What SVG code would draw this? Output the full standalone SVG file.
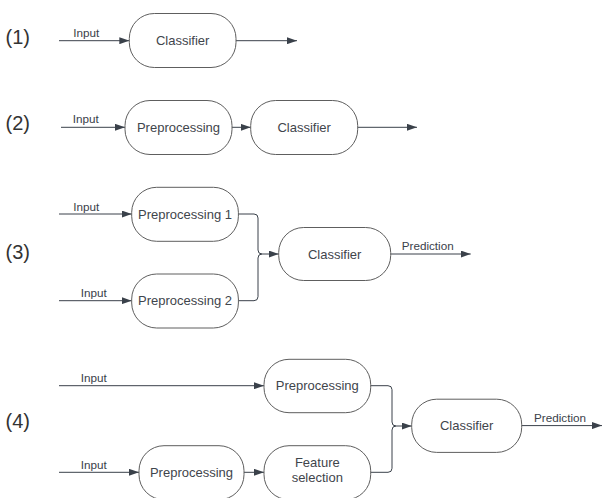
<svg xmlns="http://www.w3.org/2000/svg" width="602" height="498" viewBox="0 0 602 498">
<style>
.box{fill:#ffffff;stroke:#5e5e5e;stroke-width:1}
.lbl{font-family:"Liberation Sans",Arial,sans-serif;font-size:13px;fill:#3f454c;text-anchor:middle}
.sm{font-family:"Liberation Sans",Arial,sans-serif;font-size:11.7px;fill:#3a414a}
.sec{font-family:"Liberation Sans",Arial,sans-serif;font-size:20px;fill:#333333}
.ln{fill:none;stroke:#3a414a;stroke-width:1}
.arr{marker-end:url(#ah)}
</style>
<defs>
<marker id="ah" markerUnits="userSpaceOnUse" markerWidth="10" markerHeight="7" refX="10" refY="3.5" orient="auto">
<path d="M0,0 L10,3.5 L0,7 z" fill="#3a414a"/>
</marker>
</defs>
<g id="section-labels">
<text class="sec" x="5.5" y="44.3">(1)</text>
<text class="sec" x="5.5" y="130.3">(2)</text>
<text class="sec" x="5.5" y="259.3">(3)</text>
<text class="sec" x="5.5" y="427.6">(4)</text>
</g>
<g id="connectors">
<path class="ln arr" d="M59,40.7 H129.3"/>
<path class="ln arr" d="M236,40.7 H297"/>
<path class="ln arr" d="M61,127.3 H125"/>
<path class="ln arr" d="M232,127.3 H250.7"/>
<path class="ln arr" d="M357.7,127.3 H417"/>
<path class="ln arr" d="M59,214 H131.7"/>
<path class="ln arr" d="M59,300.7 H131.7"/>
<path class="ln arr" d="M238.3,214 H254 Q258,214 258,218 V250 Q258,254 262,254 H278.7"/>
<path class="ln" d="M238.3,300.7 H254 Q258,300.7 258,296.7 V258 Q258,254 262,254"/>
<path class="ln arr" d="M390.7,254 H470.7"/>
<path class="ln arr" d="M59,385.7 H264"/>
<path class="ln arr" d="M59,472.3 H139"/>
<path class="ln arr" d="M244,472.3 H264"/>
<path class="ln arr" d="M370.7,385.7 H388 Q392,385.7 392,389.7 V422 Q392,426 396,426 H411.7"/>
<path class="ln" d="M370.7,472.3 H388 Q392,472.3 392,468.3 V430 Q392,426 396,426"/>
<path class="ln arr" d="M521.7,425.6 H602"/>
<text class="sm" x="73.3" y="36.7">Input</text>
<text class="sm" x="72.7" y="123.3">Input</text>
<text class="sm" x="73.3" y="210.7">Input</text>
<text class="sm" x="80.7" y="297.3">Input</text>
<text class="sm" x="401.7" y="250">Prediction</text>
<text class="sm" x="80.7" y="382.3">Input</text>
<text class="sm" x="80.7" y="469">Input</text>
<text class="sm" x="534" y="421.7">Prediction</text>
</g>
<g id="n1-classifier">
<rect class="box" x="129.3" y="13.5" width="106.7" height="54" rx="25"/>
<text class="lbl" x="182.7" y="45.3">Classifier</text>
</g>
<g id="n2-preprocessing">
<rect class="box" x="125" y="100.5" width="107" height="54" rx="25"/>
<text class="lbl" x="178.5" y="132">Preprocessing</text>
</g>
<g id="n2-classifier">
<rect class="box" x="250.7" y="100.5" width="107" height="54" rx="25"/>
<text class="lbl" x="304.2" y="132">Classifier</text>
</g>
<g id="n3-preprocessing1">
<rect class="box" x="131.7" y="187.3" width="106.7" height="54" rx="25"/>
<text class="lbl" x="185" y="218.7">Preprocessing 1</text>
</g>
<g id="n3-preprocessing2">
<rect class="box" x="131.7" y="274" width="106.7" height="54" rx="25"/>
<text class="lbl" x="185" y="305.3">Preprocessing 2</text>
</g>
<g id="n3-classifier">
<rect class="box" x="278.7" y="227.5" width="112" height="53" rx="25"/>
<text class="lbl" x="334.7" y="258.6">Classifier</text>
</g>
<g id="n4-preprocessing-top">
<rect class="box" x="264" y="359.3" width="106.7" height="53.4" rx="25"/>
<text class="lbl" x="317.3" y="390.3">Preprocessing</text>
</g>
<g id="n4-preprocessing-bottom">
<rect class="box" x="139" y="445.7" width="105" height="54" rx="25"/>
<text class="lbl" x="191.5" y="476.8">Preprocessing</text>
</g>
<g id="n4-feature-selection">
<rect class="box" x="264" y="445.7" width="106.7" height="54" rx="25"/>
<text class="lbl" x="317.3" y="466.7">Feature</text>
<text class="lbl" x="317.3" y="482.3">selection</text>
</g>
<g id="n4-classifier">
<rect class="box" x="411.7" y="399.2" width="110" height="53.2" rx="25"/>
<text class="lbl" x="466.7" y="430.2">Classifier</text>
</g>
</svg>
